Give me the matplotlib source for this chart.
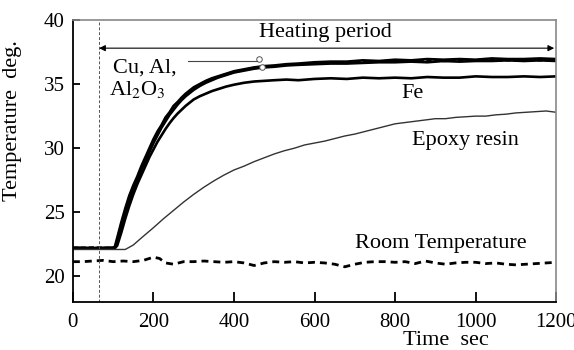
import numpy as np
import matplotlib
matplotlib.use("Agg")
import matplotlib.pyplot as plt

# time axis for the heated samples (s)
t_fast = [0, 50, 100, 104, 110, 120, 130, 140, 150, 160, 170, 180, 190, 200, 210, 220, 230, 240,
          250, 260, 270, 280, 290, 300, 315, 330, 345, 360, 380, 400, 425, 450, 475, 500, 530,
          560, 600, 640, 680, 720, 760, 800, 840, 880, 920, 960, 1000, 1040, 1080, 1120, 1160, 1200]

cu = [22.25, 22.2, 22.25, 22.3, 23.0, 24.2, 25.3, 26.3, 27.1, 27.8, 28.6, 29.3, 30.0, 30.7,
      31.3, 31.8, 32.4, 32.8, 33.3, 33.6, 33.95, 34.25, 34.5, 34.75, 35.0, 35.25, 35.45, 35.6,
      35.8, 36.0, 36.15, 36.3, 36.4, 36.45, 36.55, 36.6, 36.7, 36.75, 36.75, 36.85, 36.8, 36.9,
      36.85, 36.95, 36.9, 36.95, 36.9, 37.0, 36.95, 36.95, 37.0, 36.95]
al = [22.2, 22.25, 22.2, 22.25, 22.8, 24.0, 25.1, 26.1, 26.9, 27.6, 28.4, 29.1, 29.8, 30.5,
      31.1, 31.7, 32.2, 32.7, 33.1, 33.5, 33.85, 34.15, 34.4, 34.65, 34.95, 35.2, 35.4, 35.55,
      35.75, 35.95, 36.1, 36.25, 36.35, 36.4, 36.5, 36.55, 36.6, 36.7, 36.65, 36.75, 36.75, 36.8,
      36.8, 36.85, 36.8, 36.85, 36.85, 36.9, 36.85, 36.9, 36.85, 36.9]
al2o3 = [22.2, 22.2, 22.2, 22.2, 22.7, 23.8, 24.9, 25.9, 26.7, 27.5, 28.3, 29.0, 29.7, 30.4,
         31.0, 31.6, 32.1, 32.6, 33.0, 33.4, 33.75, 34.05, 34.3, 34.55, 34.85, 35.1, 35.3, 35.5,
         35.7, 35.9, 36.05, 36.2, 36.3, 36.35, 36.45, 36.5, 36.55, 36.6, 36.6, 36.65, 36.7, 36.7,
         36.75, 36.7, 36.8, 36.75, 36.8, 36.8, 36.85, 36.8, 36.85, 36.8]
fe = [22.2, 22.2, 22.2, 22.2, 22.4, 23.4, 24.5, 25.5, 26.4, 27.2, 27.9, 28.6, 29.3, 29.9,
      30.5, 31.0, 31.5, 31.95, 32.35, 32.7, 33.0, 33.3, 33.55, 33.8, 34.05, 34.25, 34.45, 34.6,
      34.8, 34.95, 35.1, 35.2, 35.25, 35.3, 35.35, 35.3, 35.4, 35.45, 35.4, 35.5, 35.45, 35.5,
      35.45, 35.55, 35.5, 35.5, 35.6, 35.55, 35.55, 35.6, 35.55, 35.6]

t_epoxy = [0, 50, 100, 130, 150, 170, 200, 225, 250, 275, 300, 325, 350, 375, 400, 425, 450,
           475, 500, 525, 550, 575, 600, 625, 650, 675, 700, 725, 750, 775, 800, 825, 850, 875,
           900, 925, 950, 975, 1000, 1025, 1050, 1075, 1100, 1125, 1150, 1175, 1200]
epoxy = [22.1, 22.1, 22.1, 22.1, 22.45, 23.0, 23.8, 24.5, 25.15, 25.8, 26.4, 26.95, 27.45, 27.9,
         28.3, 28.6, 28.95, 29.25, 29.55, 29.8, 30.0, 30.25, 30.4, 30.55, 30.75, 30.95, 31.1,
         31.3, 31.5, 31.7, 31.9, 32.0, 32.1, 32.2, 32.3, 32.3, 32.4, 32.45, 32.5, 32.5, 32.6,
         32.65, 32.75, 32.8, 32.85, 32.9, 32.8]

t_room = [0, 25, 50, 75, 100, 125, 150, 175, 200, 215, 230, 250, 275, 300, 325, 350, 375, 400,
          425, 450, 475, 500, 525, 550, 575, 600, 625, 650, 675, 700, 725, 750, 775, 800, 825,
          850, 875, 900, 925, 950, 975, 1000, 1025, 1050, 1075, 1100, 1125, 1150, 1175, 1200]
room = [21.15, 21.15, 21.2, 21.25, 21.15, 21.2, 21.15, 21.25, 21.5, 21.4, 21.05, 20.95, 21.15,
        21.15, 21.2, 21.15, 21.1, 21.15, 21.05, 20.85, 21.05, 21.15, 21.1, 21.15, 21.05, 21.1,
        21.05, 20.95, 20.75, 20.95, 21.1, 21.15, 21.15, 21.1, 21.15, 21.0, 21.2, 21.05, 20.95,
        21.05, 21.1, 21.1, 21.0, 21.05, 20.95, 20.9, 20.95, 21.0, 21.05, 21.1]

# small open-circle marks next to the Cu/Al pointer
mark_t = [463, 470]
mark_T = [36.95, 36.3]

heat_start = 65
heat_end = 1200

plt.rcParams['font.family'] = ['Liberation Serif', 'DejaVu Serif']
plt.rcParams['mathtext.fontset'] = 'stix'

fig = plt.figure(figsize=(5.74, 3.5), dpi=100)
ax = fig.add_axes([0.127, 0.137, 0.842, 0.806])

ax.plot(t_fast, cu, color='black', lw=1.9)
ax.plot(t_fast, al, color='black', lw=1.9, ls=(0, (2, 1)))
ax.plot(t_fast, al2o3, color='black', lw=1.9)
ax.plot(t_fast, fe, color='black', lw=1.9)
ax.plot(t_epoxy, epoxy, color='#333333', lw=1.0)
ax.plot(t_room, room, color='black', lw=2.0, ls=(0, (2.5, 1.8)))
ax.plot(mark_t, mark_T, ls='none', marker='o', ms=4, mfc='white', mec='#555555', mew=0.7)

ax.axvline(heat_start, color='#555555', lw=0.7, ls=(0, (3, 2)))
ax.annotate('', xy=(heat_start, 37.8), xytext=(heat_end - 5, 37.8),
            arrowprops=dict(arrowstyle='<|-|>', color='black', lw=0.8, mutation_scale=9,
                            shrinkA=0, shrinkB=0))
ax.text(626, 39.0, 'Heating period', ha='center', va='center', fontsize=16)
ax.plot([286, 457], [36.8, 36.8], color='#444444', lw=0.8)
ax.text(100, 36.25, 'Cu, Al,', ha='left', va='center', fontsize=16)
ax.text(89, 34.6, 'Al$_2$O$_3$', ha='left', va='center', fontsize=16)
ax.text(842, 34.3, 'Fe', ha='center', va='center', fontsize=16)
ax.text(842, 30.6, 'Epoxy resin', ha='left', va='center', fontsize=16)
ax.text(700, 22.6, 'Room Temperature', ha='left', va='center', fontsize=16)

ax.set_xlim(0, 1200)
ax.set_ylim(18, 40)
ax.set_xticks([0, 200, 400, 600, 800, 1000, 1200])
ax.set_yticks([20, 25, 30, 35, 40])
ax.tick_params(axis='x', direction='in', length=7, width=1.3, labelsize=15, pad=8)
ax.tick_params(axis='y', direction='in', length=5, width=1.3, labelsize=15, pad=6)
for s in ['top', 'right']:
    ax.spines[s].set_color('#888888')
    ax.spines[s].set_linewidth(1.2)
for s in ['left', 'bottom']:
    ax.spines[s].set_linewidth(1.3)

ax.set_ylabel('Temperature  deg.', fontsize=16)
ax.yaxis.set_label_coords(-0.106, 0.645)
ax.set_xlabel('Time  sec', fontsize=16)
ax.xaxis.set_label_coords(0.772, -0.102)

fig.savefig('out.png', dpi=100)
